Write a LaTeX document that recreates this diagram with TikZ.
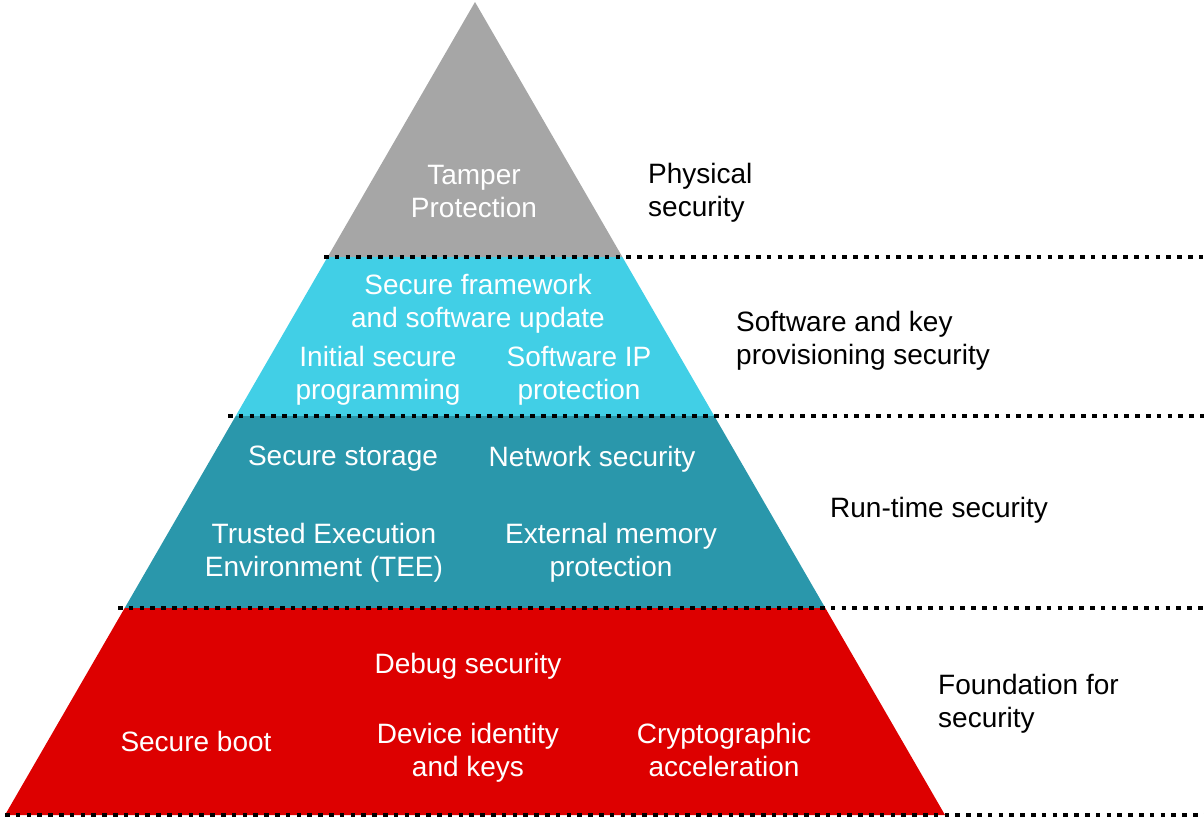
\documentclass[tikz,border=0pt]{standalone}
\usepackage{fontspec}
\setmainfont{Liberation Sans}
\definecolor{tgray}{HTML}{A6A6A6}
\definecolor{tcyan}{HTML}{41CFE6}
\definecolor{tteal}{HTML}{2A97AB}
\definecolor{tred}{HTML}{DD0000}
\tikzset{
  intext/.style={text=white, align=center, font=\fontsize{28}{33}\selectfont, inner sep=0pt},
  outtext/.style={text=black, align=left, anchor=west, font=\fontsize{28}{33}\selectfont, inner sep=0pt},
  sep/.style={line width=4.5pt, dash pattern=on 4.5pt off 6.3pt, black}
}
\begin{document}
\begin{tikzpicture}[x=1pt,y=-1pt]
\useasboundingbox (0,0) rectangle (1204,822);
% layers
\fill[tgray] (475,2) -- (622.4,257) -- (327.6,257) -- cycle;
\fill[tcyan] (327.6,257) -- (622.4,257) -- (714.3,416) -- (235.7,416) -- cycle;
\fill[tteal] (235.7,416) -- (714.3,416) -- (825.3,608) -- (124.7,608) -- cycle;
\fill[tred] (124.7,608) -- (825.3,608) -- (945,815) -- (5,815) -- cycle;
% separators
\coordinate (s1a) at (324,257); \coordinate (s1b) at (1204,257);
\coordinate (s2a) at (228,416); \coordinate (s2b) at (1204,416);
\coordinate (s3a) at (118,608); \coordinate (s3b) at (1204,608);
\coordinate (s4a) at (5,815);   \coordinate (s4b) at (1204,815);
\draw[sep] (s1a) -- (s1b);
\draw[sep] (s2a) -- (s2b);
\draw[sep] (s3a) -- (s3b);
\draw[sep] (s4a) -- (s4b);
% inner texts
\node[intext] (tamper) at (474,192) {Tamper\\Protection};
\node[intext] (framework) at (478,304) {Secure framework\\and software update};
\node[intext] (initial) at (378,376) {Initial secure\\programming};
\node[intext] (swip) at (579,376) {Software IP\\protection};
\node[intext] (storage) at (343,459) {Secure storage};
\node[intext] (network) at (592,459) {Network security};
\node[intext] (tee) at (324,553) {Trusted Execution\\Environment (TEE)};
\node[intext] (extmem) at (611,553) {External memory\\protection};
\node[intext] (debug) at (468,666) {Debug security};
\node[intext] (boot) at (196,741) {Secure boot};
\node[intext] (identity) at (468,753) {Device identity\\and keys};
\node[intext] (crypto) at (724,750) {Cryptographic\\acceleration};
% outer labels
\node[outtext] (phys) at (648,193) {Physical\\security};
\node[outtext] (swkey) at (736,341) {Software and key\\provisioning security};
\node[outtext] (runtime) at (830,510) {Run-time security};
\node[outtext] (found) at (938,704) {Foundation for\\security};
\end{tikzpicture}
\end{document}
